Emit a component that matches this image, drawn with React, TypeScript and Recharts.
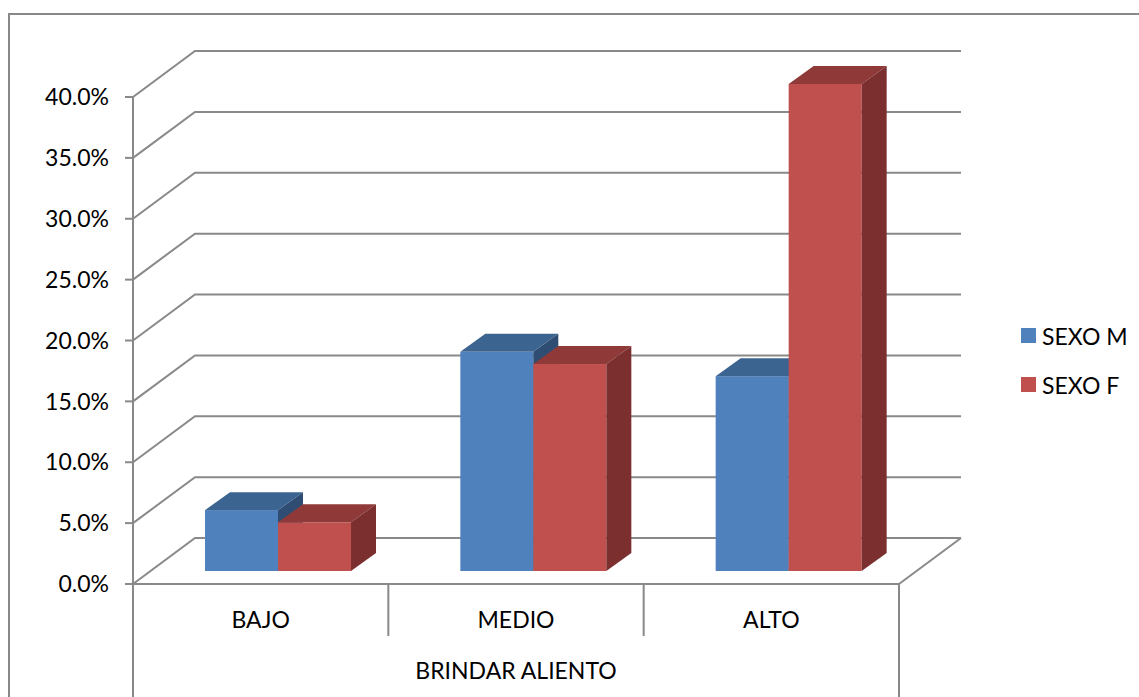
import { BarChart, Bar, XAxis, YAxis, CartesianGrid, Legend } from "recharts"

const categories = ["BAJO", "MEDIO", "ALTO"]
const sexoM = [0.05, 0.18, 0.16]
const sexoF = [0.04, 0.17, 0.4]
const yTicks = [0, 0.05, 0.1, 0.15, 0.2, 0.25, 0.3, 0.35, 0.4]
const groupTitle = "BRINDAR ALIENTO"
const seriesNames = ["SEXO M", "SEXO F"]

const data = categories.map((nivel, i) => ({ nivel, m: sexoM[i], f: sexoF[i] }))

const FONT = "Lato, 'Liberation Sans', sans-serif"
const FONT_SIZE = 23
const GRID = "#898989"

// perspective offsets: back wall, bar front plane, bar depth
const WALL_DX = 62
const WALL_DY = 46
const BAR_DX = 17
const BAR_DY = 13
const BOX_DX = 25
const BOX_DY = 18

const BLUE = { front: "#4F81BD", top: "#3C6490", side: "#2F4D72" }
const RED = { front: "#C0504D", top: "#8F3A38", side: "#7B2F2E" }

function boxShape(c: { front: string; top: string; side: string }) {
  return (props: any) => {
    const { x, y, width: w, height: h } = props
    const x0 = x + BAR_DX
    const y0 = y - BAR_DY
    return (
      <g>
        <rect x={x0} y={y0} width={w} height={h} fill={c.front} />
        <polygon
          points={`${x0},${y0} ${x0 + BOX_DX},${y0 - BOX_DY} ${x0 + w + BOX_DX},${y0 - BOX_DY} ${x0 + w},${y0}`}
          fill={c.top}
        />
        <polygon
          points={`${x0 + w},${y0} ${x0 + w + BOX_DX},${y0 - BOX_DY} ${x0 + w + BOX_DX},${y0 + h - BOX_DY} ${x0 + w},${y0 + h}`}
          fill={c.side}
        />
      </g>
    )
  }
}

// each gridline runs along the side wall and then across the back wall
const wallLine = (props: any) => {
  const { x1, y1, x2, y, height } = props
  const isFloor = Math.abs(y1 - (y + height)) < 1
  return (
    <g key={`wall-${props.index}`}>
      <polyline
        points={`${x1},${y1} ${x1 + WALL_DX},${y1 - WALL_DY} ${x2 + WALL_DX},${y1 - WALL_DY}`}
        fill="none"
        stroke={GRID}
        strokeWidth={2}
      />
      {isFloor && (
        <line x1={x2} y1={y1} x2={x2 + WALL_DX} y2={y1 - WALL_DY} stroke={GRID} strokeWidth={2} />
      )}
    </g>
  )
}

const CategoryTick = (props: any) => {
  const { x, y, payload, index, visibleTicksCount, width } = props
  const band = payload?.offset ? payload.offset * 2 : width / visibleTicksCount
  const left = x - band / 2
  const right = x + band / 2
  const last = index === visibleTicksCount - 1
  return (
    <g>
      <line x1={left} y1={y} x2={left} y2={index === 0 ? 697 : y + 52} stroke={GRID} strokeWidth={2} />
      {last && <line x1={right} y1={y} x2={right} y2={697} stroke={GRID} strokeWidth={2} />}
      <text x={x} y={y + 36} dy="0.35em" textAnchor="middle" fill="#000" fontSize={FONT_SIZE} fontFamily={FONT}>
        {payload.value}
      </text>
      {index === 0 && (
        <text
          x={left + (band * visibleTicksCount) / 2}
          y={y + 87}
          dy="0.35em"
          textAnchor="middle"
          fill="#000"
          fontSize={FONT_SIZE}
          fontFamily={FONT}
        >
          {groupTitle}
        </text>
      )}
    </g>
  )
}

const LegendBox = (props: any) => {
  const items = [...(props.payload || [])].sort(
    (a: any, b: any) => seriesNames.indexOf(a.value) - seriesNames.indexOf(b.value)
  )
  return (
    <div style={{ fontFamily: FONT, fontSize: FONT_SIZE, color: "#000" }}>
      {items.map((entry: any) => (
        <div key={entry.value} style={{ display: "flex", alignItems: "center", height: 49 }}>
          <span style={{ width: 15, height: 15, background: entry.color, marginRight: 6 }} />
          <span>{entry.value}</span>
        </div>
      ))}
    </div>
  )
}

export default function App() {
  return (
    <div style={{ position: "absolute", left: 0, top: 0, width: 1139, height: 697, overflow: "hidden", background: "#fff" }}>
      <div
        style={{
          position: "absolute",
          left: 8,
          top: 13,
          width: 1160,
          height: 720,
          border: `2px solid ${GRID}`,
        }}
      />
      <BarChart
        width={1139}
        height={697}
        data={data}
        margin={{ top: 97, right: 240, bottom: 0, left: 0 }}
        barCategoryGap={55}
        barGap={0}
        style={{ position: "absolute", left: 0, top: 0 }}
      >
        <CartesianGrid horizontal={wallLine} vertical={false} />
        <XAxis
          dataKey="nivel"
          height={113}
          tickLine={false}
          tickSize={0}
          tickMargin={0}
          axisLine={{ stroke: GRID, strokeWidth: 2 }}
          tick={<CategoryTick />}
          interval={0}
        />
        <YAxis
          width={133}
          domain={[0, 0.4]}
          ticks={yTicks}
          tickFormatter={(v: number) => `${(v * 100).toFixed(1)}%`}
          tickSize={8}
          tickMargin={16}
          tickLine={{ stroke: GRID, strokeWidth: 2 }}
          axisLine={{ stroke: GRID, strokeWidth: 2 }}
          tick={{ fill: "#000", fontSize: FONT_SIZE, fontFamily: FONT }}
        />
        <Legend
          layout="horizontal"
          verticalAlign="middle"
          align="center"
          content={<LegendBox />}
          wrapperStyle={{ left: 1021, top: 311, width: 118 }}
        />
        <Bar dataKey="m" name={seriesNames[0]} fill={BLUE.front} shape={boxShape(BLUE)} isAnimationActive={false} />
        <Bar dataKey="f" name={seriesNames[1]} fill={RED.front} shape={boxShape(RED)} isAnimationActive={false} />
      </BarChart>
    </div>
  )
}
